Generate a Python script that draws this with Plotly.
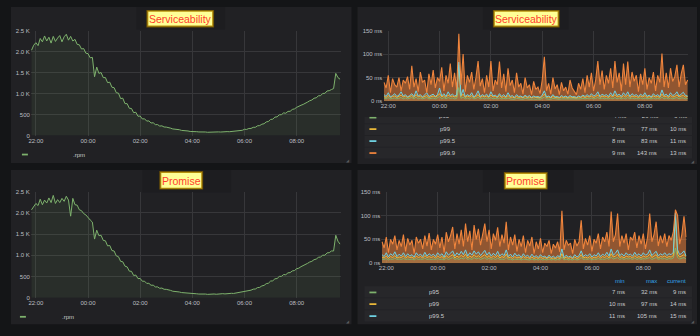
import plotly.graph_objects as go
import pandas as pd

# ---------------- data ----------------
START = "2019-05-20 21:50"
FREQ = "5min"
X_RANGE = ["2019-05-20 21:48:30", "2019-05-21 09:41"]
TICK0 = "2019-05-20 22:00"

RPM_TICKS = [0, 500, 1000, 1500, 2000, 2500]
RPM_TICKTEXT = ["0", "500", "1.0 K", "1.5 K", "2.0 K", "2.5 K"]
MS_TICKS = [0, 50, 100, 150]
MS_TICKTEXT = ["0 ns", "50 ms", "100 ms", "150 ms"]

TITLES = ["Serviceability", "Serviceability", "Promise", "Promise"]
RPM_NAME = ".rpm"

SERV_RPM = [
    2030, 2150, 2210, 2140, 2310, 2230, 2370, 2250, 2340, 2200, 2360, 2240,
    2320, 2380, 2230, 2350, 2410, 2270, 2360, 2250, 2290, 2170, 2160, 2060,
    2070, 1960, 1950, 1850, 1860, 1400, 1630, 1480, 1500, 1380, 1380, 1260,
    1270, 1150, 1140, 1020, 1010, 880, 890, 760, 760, 650, 645, 545,
    555, 460, 465, 395, 400, 345, 350, 300, 305, 260, 262, 226,
    232, 204, 202, 180, 177, 158, 157, 140, 140, 124, 122, 108,
    110, 98, 100, 93, 93, 87, 90, 83, 86, 79, 83, 78,
    84, 81, 88, 85, 92, 88, 95, 92, 100, 98, 106, 107,
    125, 126, 150, 146, 170, 170, 197, 198, 233, 238, 271, 282,
    325, 336, 384, 390, 440, 445, 494, 498, 540, 532, 576, 578,
    622, 635, 672, 688, 722, 742, 779, 797, 829, 847, 889, 899,
    946, 949, 1003, 1005, 1062, 1068, 1096, 1118, 1480, 1380, 1340,
]
PROM_RPM = [
    2070, 2160, 2220, 2170, 2320, 2190, 2300, 2230, 2350, 2240, 2410, 2220,
    2310, 2240, 2340, 2270, 2390, 2300, 1920, 2340, 2190, 2180, 2070, 2050,
    1980, 1950, 1880, 1830, 1780, 1380, 1590, 1460, 1470, 1350, 1340, 1220,
    1230, 1110, 1100, 985, 965, 855, 845, 742, 725, 625, 620, 522,
    532, 448, 452, 386, 388, 336, 338, 292, 294, 252, 254, 220,
    226, 197, 196, 174, 171, 151, 150, 135, 134, 120, 118, 104,
    108, 95, 98, 91, 91, 85, 89, 81, 85, 77, 83, 76,
    86, 80, 90, 85, 94, 88, 97, 93, 102, 99, 108, 110,
    128, 128, 152, 150, 172, 176, 200, 204, 237, 242, 277, 288,
    330, 340, 390, 396, 444, 450, 500, 502, 545, 540, 585, 590,
    630, 639, 682, 695, 730, 752, 785, 808, 840, 856, 895, 908,
    950, 958, 1000, 1000, 1055, 1060, 1100, 1100, 1470, 1330, 1260,
]

SERV_P95 = [
    7, 5, 8, 5, 6, 7, 5, 6, 8, 5, 7, 5,
    6, 8, 5, 9, 5, 7, 5, 6, 8, 5, 6, 7,
    5, 7, 10, 5, 8, 5, 8, 6, 7, 5, 6, 29,
    6, 9, 5, 7, 5, 8, 5, 6, 9, 5, 7, 5,
    7, 5, 8, 5, 6, 5, 7, 5, 6, 5, 7, 5,
    5, 4, 6, 5, 5, 4, 6, 5, 5, 4, 5, 4,
    5, 4, 6, 9, 5, 5, 4, 6, 5, 5, 4, 5,
    5, 5, 4, 5, 5, 5, 4, 5, 5, 6, 5, 6,
    5, 7, 5, 6, 8, 5, 7, 5, 6, 5, 7, 5,
    8, 5, 7, 5, 7, 5, 8, 5, 7, 5, 6, 5,
    7, 5, 7, 5, 6, 5, 7, 5, 6, 5, 9, 5,
    7, 5, 7, 5, 6, 8, 5, 7, 7, 5, 6,
]
SERV_P99 = [
    10, 8, 12, 8, 10, 11, 8, 10, 13, 9, 11, 8,
    10, 12, 8, 14, 9, 11, 8, 10, 12, 8, 10, 11,
    9, 11, 16, 9, 12, 8, 13, 10, 11, 9, 10, 77,
    10, 15, 8, 11, 9, 12, 8, 10, 14, 8, 11, 9,
    11, 8, 13, 9, 10, 8, 12, 8, 10, 8, 12, 8,
    9, 7, 10, 8, 9, 7, 10, 8, 9, 7, 9, 8,
    8, 7, 10, 15, 8, 9, 7, 10, 8, 8, 7, 9,
    8, 9, 7, 9, 8, 8, 7, 9, 8, 10, 8, 10,
    9, 11, 8, 10, 13, 8, 11, 9, 10, 8, 12, 9,
    14, 9, 11, 8, 12, 9, 13, 8, 11, 9, 10, 8,
    11, 9, 12, 8, 10, 8, 11, 9, 10, 8, 15, 9,
    11, 8, 12, 9, 10, 13, 9, 11, 12, 9, 10,
]
SERV_P995 = [
    14, 10, 18, 9, 12, 16, 10, 13, 20, 11, 14, 9,
    12, 16, 10, 22, 11, 14, 9, 13, 18, 10, 12, 15,
    10, 14, 28, 11, 16, 10, 20, 12, 15, 11, 13, 83,
    12, 25, 10, 14, 11, 18, 9, 13, 22, 10, 14, 11,
    15, 9, 20, 11, 13, 9, 16, 10, 14, 9, 18, 10,
    12, 8, 14, 10, 11, 8, 13, 9, 12, 8, 11, 9,
    10, 8, 13, 22, 9, 11, 8, 14, 9, 10, 8, 12,
    9, 11, 8, 12, 9, 10, 8, 11, 9, 13, 10, 14,
    10, 16, 11, 13, 20, 10, 15, 12, 14, 10, 18, 11,
    22, 12, 15, 10, 18, 12, 20, 10, 16, 12, 14, 10,
    15, 11, 18, 10, 13, 9, 16, 11, 14, 10, 24, 12,
    15, 10, 18, 12, 14, 20, 11, 15, 19, 12, 11,
]
SERV_P999 = [
    40, 28, 55, 18, 48, 35, 30, 50, 22, 45, 38, 52,
    25, 75, 30, 48, 20, 62, 40, 45, 18, 58, 35, 66,
    28, 50, 42, 72, 22, 55, 38, 80, 30, 60, 25, 143,
    35, 100, 20, 55, 40, 62, 25, 50, 85, 32, 48, 18,
    55, 30, 85, 22, 45, 35, 84, 28, 58, 20, 70, 33,
    45, 18, 60, 30, 38, 15, 50, 28, 35, 14, 42, 25,
    30, 16, 45, 94, 22, 38, 15, 50, 26, 35, 14, 40,
    22, 30, 15, 45, 28, 20, 14, 38, 25, 48, 18, 55,
    30, 60, 22, 45, 85, 35, 65, 25, 55, 38, 70, 28,
    85, 40, 60, 22, 80, 35, 84, 30, 62, 42, 55, 20,
    58, 35, 70, 25, 50, 38, 62, 22, 55, 40, 101, 30,
    60, 28, 70, 42, 52, 77, 30, 58, 77, 35, 45,
]

PROM_P95 = [
    9, 8, 10, 7, 9, 8, 11, 8, 9, 8, 10, 8,
    9, 8, 9, 7, 10, 8, 9, 8, 11, 8, 9, 8,
    9, 8, 10, 8, 9, 7, 11, 8, 10, 12, 8, 10,
    8, 11, 9, 12, 8, 10, 8, 12, 9, 11, 8, 10,
    12, 8, 11, 8, 10, 8, 11, 8, 9, 8, 12, 8,
    9, 7, 9, 8, 9, 7, 9, 8, 8, 7, 9, 7,
    8, 7, 9, 7, 8, 7, 9, 7, 8, 7, 8, 7,
    13, 7, 9, 7, 8, 7, 9, 7, 8, 12, 8, 9,
    8, 10, 7, 9, 8, 10, 8, 9, 8, 11, 8, 13,
    9, 10, 12, 8, 10, 8, 10, 9, 10, 8, 11, 8,
    10, 8, 10, 9, 10, 12, 8, 10, 12, 8, 10, 9,
    10, 8, 10, 9, 11, 32, 12, 9, 10, 12, 9,
]
PROM_P99 = [
    13, 11, 15, 10, 14, 12, 16, 11, 13, 12, 15, 11,
    14, 12, 13, 10, 15, 12, 14, 11, 16, 12, 14, 12,
    14, 11, 15, 12, 14, 10, 16, 12, 15, 18, 11, 15,
    12, 17, 13, 19, 11, 15, 12, 18, 13, 16, 12, 15,
    18, 12, 16, 11, 15, 12, 17, 11, 14, 12, 19, 11,
    13, 10, 14, 11, 13, 10, 14, 11, 12, 10, 13, 10,
    12, 10, 13, 10, 12, 10, 13, 10, 11, 10, 12, 10,
    20, 10, 13, 10, 12, 10, 13, 10, 12, 18, 11, 13,
    11, 14, 10, 13, 11, 15, 11, 14, 12, 16, 11, 20,
    13, 15, 19, 12, 14, 11, 15, 13, 14, 11, 16, 12,
    14, 11, 15, 13, 14, 19, 12, 15, 18, 11, 14, 13,
    15, 12, 14, 13, 16, 97, 19, 13, 15, 18, 14,
]
PROM_P995 = [
    18, 14, 22, 13, 20, 16, 24, 14, 19, 15, 22, 14,
    20, 15, 18, 13, 22, 16, 19, 14, 23, 15, 20, 16,
    19, 14, 22, 16, 20, 13, 24, 17, 21, 26, 15, 22,
    17, 25, 18, 28, 15, 22, 17, 26, 19, 24, 16, 21,
    27, 17, 23, 15, 21, 16, 25, 15, 20, 16, 28, 14,
    19, 13, 21, 15, 18, 12, 20, 14, 17, 12, 19, 13,
    16, 12, 18, 13, 15, 11, 17, 12, 15, 11, 16, 13,
    30, 12, 17, 13, 15, 11, 18, 13, 16, 26, 14, 18,
    15, 20, 13, 18, 15, 22, 14, 19, 16, 23, 15, 30,
    17, 21, 28, 16, 20, 15, 22, 17, 19, 15, 23, 16,
    20, 15, 22, 17, 19, 28, 16, 21, 25, 15, 20, 17,
    22, 16, 20, 18, 23, 105, 28, 18, 21, 26, 15,
]
PROM_P999 = [
    45, 32, 55, 22, 50, 40, 58, 28, 48, 35, 60, 25,
    52, 38, 48, 20, 55, 42, 50, 30, 58, 36, 63, 28,
    50, 40, 60, 32, 55, 22, 65, 45, 58, 76, 30, 62,
    40, 70, 35, 83, 45, 68, 28, 80, 50, 72, 38, 65,
    83, 45, 70, 30, 62, 48, 75, 35, 60, 42, 87, 28,
    55, 38, 60, 25, 50, 35, 58, 22, 48, 36, 55, 20,
    45, 30, 52, 22, 42, 35, 48, 20, 40, 32, 45, 24,
    110, 28, 48, 38, 42, 20, 50, 36, 45, 90, 30, 52,
    38, 58, 25, 50, 42, 62, 30, 55, 45, 65, 35, 108,
    45, 60, 104, 35, 58, 42, 62, 28, 55, 48, 65, 32,
    58, 40, 62, 30, 55, 104, 45, 60, 87, 36, 58, 42,
    62, 35, 58, 48, 65, 112, 100, 40, 60, 98, 55,
]

SERIES_NAMES = ["p95", "p99", "p99.5", "p99.9"]
LEGEND_HEAD = ["min", "max", "current"]
SERV_MIN = ["4 ms", "7 ms", "8 ms", "9 ms"]
SERV_MAX = ["29 ms", "77 ms", "83 ms", "143 ms"]
SERV_CUR = ["6 ms", "10 ms", "11 ms", "13 ms"]
PROM_MIN = ["7 ms", "10 ms", "11 ms"]
PROM_MAX = ["32 ms", "97 ms", "105 ms"]
PROM_CUR = ["9 ms", "14 ms", "15 ms"]

# ---------------- style ----------------
W, H = 700, 336
BG = "#141517"
PANEL = "#212124"
BAND = "#1d1d20"
ROW = "#27272a"
GRID = "#37373a"
TXT = "#c9cacc"
TICKC = "#bcbec2"
HEADC = "#33a2e5"
GREEN, YELLOW, CYAN, ORANGE = "#7eb26d", "#eab839", "#6ed0e0", "#ef843c"
SER_COLORS = [GREEN, YELLOW, CYAN, ORANGE]
SER_FILL = [0.16, 0.12, 0.12, 0.55]
SER_WIDTH = [1, 1, 1, 1.1]
FONT = "Liberation Sans, Arial, sans-serif"
TF = dict(family=FONT, size=6, color=TICKC)


def rgba(h, a):
    h = h.lstrip("#")
    return "rgba(%d,%d,%d,%.3f)" % (int(h[0:2], 16), int(h[2:4], 16), int(h[4:6], 16), a)


times = pd.date_range(START, periods=len(SERV_RPM), freq=FREQ)

fig = go.Figure()


def add_rpm(vals, xa, ya):
    fig.add_trace(go.Scatter(x=times, y=vals, xaxis=xa, yaxis=ya, mode="lines",
                             line=dict(color=GREEN, width=1), fill="tozeroy",
                             fillcolor=rgba(GREEN, 0.09), hoverinfo="skip", showlegend=False))


def add_lat(series, xa, ya):
    # fills first (like the dashboard's area shading), then the lines on top
    for vals, c, a in zip(series, SER_COLORS, SER_FILL):
        fig.add_trace(go.Scatter(x=times, y=vals, xaxis=xa, yaxis=ya, mode="lines",
                                 line=dict(width=0), fill="tozeroy",
                                 fillcolor=rgba(c, a), hoverinfo="skip", showlegend=False))
    for vals, c, w in zip(series, SER_COLORS, SER_WIDTH):
        fig.add_trace(go.Scatter(x=times, y=vals, xaxis=xa, yaxis=ya, mode="lines",
                                 line=dict(color=c, width=w),
                                 hoverinfo="skip", showlegend=False))


add_rpm(SERV_RPM, "x", "y")
add_lat([SERV_P95, SERV_P99, SERV_P995, SERV_P999], "x2", "y2")
add_rpm(PROM_RPM, "x3", "y3")
add_lat([PROM_P95, PROM_P99, PROM_P995, PROM_P999], "x4", "y4")


def xax(d0, d1, anchor):
    return dict(domain=[d0 / W, d1 / W], anchor=anchor, type="date", range=X_RANGE,
                tick0=TICK0, dtick=2 * 3600 * 1000, tickformat="%H:%M",
                showgrid=True, gridcolor=GRID, gridwidth=1, zeroline=False,
                showline=False, ticks="", tickfont=TF, fixedrange=True)


def yax(top, bot, anchor, rng, tv, tt):
    return dict(domain=[1 - bot / H, 1 - top / H], anchor=anchor, range=rng,
                tickvals=tv, ticktext=tt, showgrid=True, gridcolor=GRID, gridwidth=1,
                zeroline=False, showline=False, ticks="", tickfont=TF, fixedrange=True)


shapes, anns = [], []


def rect(x0, y0, x1, y1, fill, layer="below"):
    shapes.append(dict(type="rect", xref="paper", yref="paper", x0=x0 / W, x1=x1 / W,
                       y0=1 - y1 / H, y1=1 - y0 / H, fillcolor=fill,
                       line=dict(width=0), layer=layer))


def text(x, y, s, anchor="left", size=6, color=TXT, family=FONT):
    anns.append(dict(x=x / W, y=1 - y / H, xref="paper", yref="paper", text=s,
                     showarrow=False, xanchor=anchor, yanchor="middle",
                     font=dict(size=size, color=color, family=family), borderpad=0))


# panels
rect(8, 4, 350, 163, PANEL)
rect(356, 4, 697, 164, PANEL)
rect(8, 170, 350, 327, PANEL)
rect(356, 170, 697, 327, PANEL)
# title header bands
rect(134, 4, 223, 27, BAND)
rect(482, 4, 568, 27, BAND)
rect(140, 170, 229, 193, BAND)
rect(482, 170, 573, 193, BAND)

# title boxes
boxes = [(144, 7, 212, 25), (492, 7, 559, 25), (157, 171, 201, 190), (503, 172, 547, 190)]
for (x0, y0, x1, y1), t in zip(boxes, TITLES):
    rect(x0, y0, x1, y1, "#6e5206")
    rect(x0 + 1, y0 + 1, x1 - 1, y1 - 1, "#b8930f")
    rect(x0 + 2, y0 + 2, x1 - 2, y1 - 2, "#ffff96")
    text((x0 + x1) / 2, (y0 + y1) / 2 + 0.5, t, anchor="center", size=10.5, color="#ff3d2e")

# rpm legends
rect(19, 153.4, 25, 155.2, GREEN)
text(69, 155, RPM_NAME)
rect(17, 318.6, 23, 320.4, GREEN)
text(58, 320, RPM_NAME)

# top-right legend table
tr_rows = [(116, 122.6), (123.5, 134.4), (135.3, 146.3), (147.2, 158.2)]
for (a, b) in tr_rows:
    rect(363, a, 692, b, ROW)
tr_y = [115.3, 128.4, 140.6, 152.8]
for i in range(1, 4):
    y = tr_y[i]
    rect(368, y - 0.9, 375, y + 0.9, SER_COLORS[i])
    text(438, y, SERIES_NAMES[i])
    text(626, y, SERV_MIN[i], anchor="right")
    text(658, y, SERV_MAX[i], anchor="right")
    text(687, y, SERV_CUR[i], anchor="right")
rect(368, 116, 375, 117.6, SER_COLORS[0])
# clipped (scrolled) first row drawn as a text trace clipped to the legend viewport
fig.add_trace(go.Scatter(
    x=[438, 626, 658, 687], y=[tr_y[0]] * 4, xaxis="x5", yaxis="y5", mode="text",
    text=[SERIES_NAMES[0], SERV_MIN[0], SERV_MAX[0], SERV_CUR[0]],
    textposition=["middle right", "middle left", "middle left", "middle left"],
    textfont=dict(family=FONT, size=6, color=TXT), cliponaxis=True,
    hoverinfo="skip", showlegend=False))

# bottom-right legend table
br_rows = [(288.3, 299.8), (300.6, 312.0), (312.8, 324.2)]
for (a, b) in br_rows:
    rect(363, a, 692, b, ROW)
text(626, 283.5, LEGEND_HEAD[0], anchor="right", color=HEADC)
text(658, 283.5, LEGEND_HEAD[1], anchor="right", color=HEADC)
text(687, 283.5, LEGEND_HEAD[2], anchor="right", color=HEADC)
br_y = [294.7, 306.6, 318.8]
for i in range(3):
    y = br_y[i]
    rect(368, y - 0.9, 375, y + 0.9, SER_COLORS[i])
    text(427, y, SERIES_NAMES[i])
    text(626, y, PROM_MIN[i], anchor="right")
    text(658, y, PROM_MAX[i], anchor="right")
    text(687, y, PROM_CUR[i], anchor="right")

# resize handles
for (x, y) in [(346, 160), (693, 161), (346, 324), (693, 324)]:
    text(x, y, "◢", anchor="center", size=4, color="#5a5b5e", family="DejaVu Sans")

fig.update_layout(
    width=W, height=H, margin=dict(l=0, r=0, t=0, b=0, pad=0),
    paper_bgcolor=BG, plot_bgcolor="rgba(0,0,0,0)", showlegend=False,
    xaxis=xax(28, 339, "y"),
    yaxis=yax(28, 135, "x", [0, 2500], RPM_TICKS, RPM_TICKTEXT),
    xaxis2=xax(382, 688, "y2"),
    yaxis2=yax(28, 100, "x2", [0, 150], MS_TICKS, MS_TICKTEXT),
    xaxis3=xax(28, 339, "y3"),
    yaxis3=yax(192, 300, "x3", [0, 2500], RPM_TICKS, RPM_TICKTEXT),
    xaxis4=xax(380, 686.5, "y4"),
    yaxis4=yax(192, 265, "x4", [0, 150], MS_TICKS, MS_TICKTEXT),
    xaxis5=dict(domain=[356 / W, 697 / W], anchor="y5", range=[356, 697], visible=False, fixedrange=True),
    yaxis5=dict(domain=[1 - 163 / H, 1 - 116 / H], anchor="x5", range=[163, 116], visible=False, fixedrange=True),
    shapes=shapes, annotations=anns,
)

fig.write_html("out.html", config={"displayModeBar": False})
